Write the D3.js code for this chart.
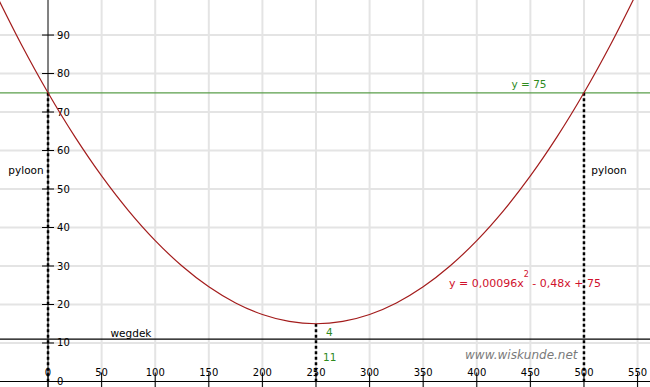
<!DOCTYPE html>
<meta charset="utf-8">
<style>
body { margin: 0; background: #fff; }
svg { display: block; font-family: "DejaVu Sans", Verdana, sans-serif; }
.tick-label { font-size: 10px; fill: #000; }
</style>
<script src="https://cdn.jsdelivr.net/npm/d3@7"></script>
<body>
<svg width="650" height="387"></svg>
<script>
// data
var xTicks = [0, 50, 100, 150, 200, 250, 300, 350, 400, 450, 500, 550];
var yTicks = [0, 10, 20, 30, 40, 50, 60, 70, 80, 90];
var curveX = [-50, -25, 0, 25, 50, 75, 100, 125, 150, 175, 200, 225, 250,
              275, 300, 325, 350, 375, 400, 425, 450, 475, 500, 525, 550];
var curveY = [101.4, 87.6, 75, 63.6, 53.4, 44.4, 36.6, 30, 24.6, 20.4, 17.4, 15.6, 15,
              15.6, 17.4, 20.4, 24.6, 30, 36.6, 44.4, 53.4, 63.6, 75, 87.6, 101.4];
var cableHeight = 75, roadHeight = 11, lowest = 15;
var pylons = [0, 500];
var middle = 250;

var svg = d3.select("svg"),
    width = +svg.attr("width"),
    height = +svg.attr("height");

var x = d3.scaleLinear().domain([-44.8, 561.6]).range([0, width]);
var y = d3.scaleLinear().domain([-1.43, 99.1]).range([height, 0]);

// grid
var grid = svg.append("g").attr("stroke", "#e4e4e4").attr("stroke-width", 2);
grid.selectAll(".gx").data(xTicks.filter(function(d) { return d > 0; }))
  .enter().append("line")
    .attr("x1", function(d) { return x(d); }).attr("x2", function(d) { return x(d); })
    .attr("y1", 0).attr("y2", height);
grid.selectAll(".gy").data(yTicks.filter(function(d) { return d > 0; }))
  .enter().append("line")
    .attr("y1", function(d) { return y(d); }).attr("y2", function(d) { return y(d); })
    .attr("x1", 0).attr("x2", width);

// y axis
svg.append("line")
    .attr("x1", x(0)).attr("x2", x(0)).attr("y1", 0).attr("y2", height)
    .attr("stroke", "#808080").attr("stroke-width", 2);
var yt = svg.append("g");
yt.selectAll("line").data(yTicks.filter(function(d) { return d > 0; }))
  .enter().append("line")
    .attr("x1", x(0) - 6).attr("x2", x(0) + 6)
    .attr("y1", function(d) { return y(d); }).attr("y2", function(d) { return y(d); })
    .attr("stroke", "#000");
yt.selectAll("text").data(yTicks)
  .enter().append("text")
    .attr("class", "tick-label")
    .attr("x", x(0) + 9)
    .attr("y", function(d) { return y(d); })
    .attr("dy", "0.35em")
    .text(function(d) { return d; });

// x axis
svg.append("line")
    .attr("x1", 0).attr("x2", width).attr("y1", y(0)).attr("y2", y(0))
    .attr("stroke", "#000").attr("stroke-width", 1.2);
var xt = svg.append("g");
xt.selectAll("line").data(xTicks)
  .enter().append("line")
    .attr("x1", function(d) { return x(d); }).attr("x2", function(d) { return x(d); })
    .attr("y1", y(0) - 9).attr("y2", height)
    .attr("stroke", "#000");
xt.selectAll("text").data(xTicks)
  .enter().append("text")
    .attr("class", "tick-label")
    .attr("x", function(d) { return x(d); })
    .attr("y", y(0) - 5)
    .attr("text-anchor", "middle")
    .text(function(d) { return d; });

// road
svg.append("line")
    .attr("x1", 0).attr("x2", width).attr("y1", y(roadHeight)).attr("y2", y(roadHeight))
    .attr("stroke", "#000").attr("stroke-width", 1.2);

// cable height line
svg.append("line")
    .attr("x1", 0).attr("x2", width).attr("y1", y(cableHeight)).attr("y2", y(cableHeight))
    .attr("stroke", "#5a9e4a").attr("stroke-width", 1.2);

// dotted verticals
svg.selectAll(".pylon").data(pylons)
  .enter().append("line")
    .attr("x1", function(d) { return x(d); }).attr("x2", function(d) { return x(d); })
    .attr("y1", y(cableHeight)).attr("y2", y(0))
    .attr("stroke", "#000").attr("stroke-width", 2.5).attr("stroke-dasharray", "3,2.5");
svg.append("line")
    .attr("x1", x(middle)).attr("x2", x(middle))
    .attr("y1", y(lowest)).attr("y2", y(0))
    .attr("stroke", "#000").attr("stroke-width", 2.5).attr("stroke-dasharray", "3,2.5");

// parabola
var line = d3.line()
    .x(function(d, i) { return x(curveX[i]); })
    .y(function(d) { return y(d); })
    .curve(d3.curveCatmullRom);
svg.append("path")
    .attr("d", line(curveY))
    .attr("fill", "none")
    .attr("stroke", "#a31c1c")
    .attr("stroke-width", 1.2);

// labels
function label(tx, ty, str, color, size, anchor) {
  return svg.append("text")
      .attr("x", tx).attr("y", ty)
      .attr("fill", color)
      .attr("font-size", size)
      .attr("text-anchor", anchor || "start")
      .text(str);
}
label(131, 337, "wegdek", "#000", 10.5, "middle");
label(26, 174, "pyloon", "#000", 10.5, "middle");
label(609, 174, "pyloon", "#000", 10.5, "middle");
label(529, 88, "y = 75", "#2e8a1e", 10.5, "middle");
label(x(middle) + 10, 336, "4", "#2e8a1e", 10.5);
label(x(middle) + 7, 361, "11", "#2e8a1e", 10.5);

var f = svg.append("text")
    .attr("x", 449).attr("y", 287)
    .attr("fill", "#d0102c")
    .attr("font-size", 11);
f.append("tspan").text("y = 0,00096x");
f.append("tspan").attr("dy", -10).attr("font-size", 8).text("2");
f.append("tspan").attr("dy", 10).text(" - 0,48x + 75");

svg.append("text")
    .attr("x", 465).attr("y", 359)
    .attr("fill", "#7a7a7a")
    .attr("font-size", 12)
    .attr("font-style", "italic")
    .text("www.wiskunde.net");
</script>
</body>
